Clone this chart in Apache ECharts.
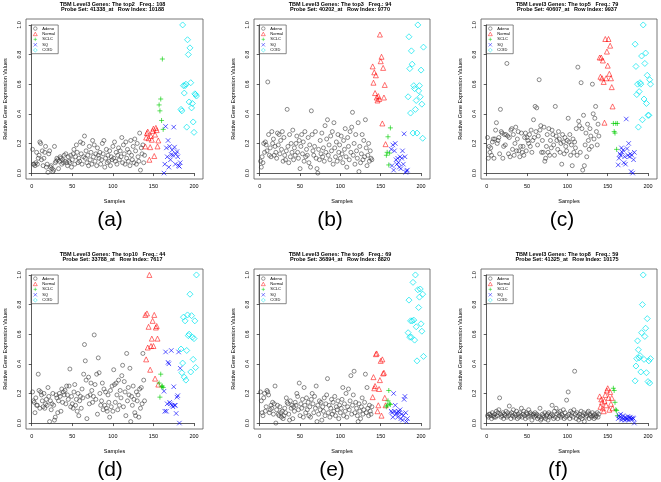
<!DOCTYPE html>
<html><head><meta charset="utf-8">
<script src="https://cdn.jsdelivr.net/npm/echarts@6/dist/echarts.min.js"></script>
<style>html,body{margin:0;padding:0;background:#fff}#c{width:661px;height:482px}</style>
</head><body><div id="c"></div><script>
const groupNames = ['Adeno','Normal','SCLC','SQ','COID'];
const groupStart = [1,140,157,163,184];
const xTicks = [0,50,100,150,200];
const yTicks = [0,0.2,0.4,0.6,0.8,1.0];
const panelLetters = ['(a)','(b)','(c)','(d)','(e)','(f)'];
const titleLine1 = ['TBM Level3 Genes: The top2   Freq.: 108','TBM Level3 Genes: The top3   Freq.: 94','TBM Level3 Genes: The top5   Freq.: 79','TBM Level3 Genes: The top10   Freq.: 44','TBM Level3 Genes: The top6   Freq.: 69','TBM Level3 Genes: The top8   Freq.: 59'];
const titleLine2 = ['Probe Set: 41338_at   Row Index: 10188','Probe Set: 40202_at   Row Index: 9770','Probe Set: 40607_at   Row Index: 9937','Probe Set: 33788_at   Row Index: 7617','Probe Set: 36894_at   Row Index: 8820','Probe Set: 41325_at   Row Index: 10175'];
const xAxisName = 'Samples';
const yAxisName = 'Relative Gene Expression Values';

// ---- panel (a)
const adenoA = [0.16,0.06,0.06,0.05,0.07,0.14,0.06,0.10,0.12,0.21,0.20,0.09,0.15,0.05,0.10,0.14,0.18,0.04,0.06,0.005,
0.13,0.15,0.04,0.05,0.03,0.01,0.02,0.18,0.07,0.08,0.10,0.09,0.03,0.08,0.11,0.10,0.06,0.09,0.07,0.12,
0.08,0.13,0.07,0.05,0.11,0.08,0.07,0.12,0.04,0.09,0.13,0.16,0.06,0.11,0.19,0.14,0.07,0.10,0.08,0.21,
0.13,0.06,0.20,0.11,0.25,0.10,0.15,0.07,0.12,0.05,0.18,0.09,0.14,0.06,0.22,0.11,0.19,0.08,0.13,0.05,
0.17,0.12,0.10,0.14,0.06,0.09,0.20,0.13,0.22,0.04,0.10,0.16,0.07,0.12,0.08,0.15,0.05,0.11,0.09,0.18,
0.10,0.21,0.08,0.14,0.06,0.12,0.17,0.09,0.15,0.11,0.24,0.07,0.19,0.13,0.06,0.21,0.10,0.16,0.08,0.14,
0.05,0.22,0.12,0.09,0.18,0.07,0.23,0.15,0.06,0.20,0.11,0.08,0.27,0.02,0.17,0.13,0.19,0.07,0.12];
const normalA = [0.18,0.24,0.27,0.28,0.235,0.09,0.175,0.25,0.225,0.285,0.30,0.115,0.26,0.305,0.29,0.18,0.22];
const sclcA = [0.46,0.42,0.50,0.355,0.77,0.295];
const sqA = [0.0,0.06,0.315,0.17,0.11,0.22,0.04,0.18,0.09,0.125,0.155,0.12,0.31,0.175,0.06,0.13,0.145,0.11,0.05,0.045,0.07];
const coidA = [0.43,0.42,1.0,0.59,0.54,0.59,0.60,0.31,0.90,0.80,0.48,0.845,0.61,0.44,0.47,0.345,0.275,0.535,0.53,0.52];

// ---- panel (b)
const adenoB = [0.08,0.04,0.11,0.07,0.20,0.14,0.21,0.19,0.15,0.615,0.26,0.12,0.17,0.11,0.28,0.20,0.23,0.12,0.18,0.14,
0.10,0.27,0.19,0.26,0.13,0.22,0.16,0.28,0.08,0.24,0.12,0.09,0.15,0.43,0.18,0.07,0.26,0.11,0.20,0.14,
0.29,0.09,0.17,0.12,0.20,0.25,0.14,0.10,0.22,0.03,0.18,0.26,0.13,0.21,0.08,0.28,0.11,0.16,0.12,0.24,
0.07,0.19,0.04,0.42,0.26,0.15,0.12,0.18,0.28,0.10,0.03,0.00,0.16,0.09,0.22,0.13,0.27,0.11,0.17,0.08,
0.32,0.14,0.23,0.36,0.12,0.19,0.09,0.25,0.15,0.28,0.06,0.34,0.17,0.11,0.21,0.08,0.26,0.14,0.19,0.10,
0.25,0.13,0.07,0.22,0.16,0.30,0.11,0.04,0.24,0.18,0.09,0.28,0.14,0.31,0.41,0.12,0.20,0.06,0.26,0.15,
0.10,0.34,0.01,0.18,0.07,0.13,0.26,0.09,0.22,0.11,0.36,0.17,0.05,0.12,0.20,0.08,0.15,0.10,0.09];
const normalB = [0.72,0.61,0.68,0.54,0.66,0.51,0.49,0.52,0.50,0.935,0.755,0.785,0.335,0.71,0.51,0.595,0.195];
const sclcB = [0.12,0.14,0.245,0.055,0.135,0.305];
const sqB = [0.16,0.05,0.19,0.02,0.15,0.20,0.09,0.06,0.10,0.07,0.04,0.11,0.03,0.10,0.15,0.06,0.265,0.11,0.005,0.015,0.02];
const coidB = [0.515,0.92,0.705,0.405,0.825,0.735,0.27,0.59,0.57,0.43,0.49,0.27,1.0,0.555,0.59,0.515,0.695,0.465,0.235,0.85];

// ---- panel (c)
const adenoC = [0.24,0.10,0.18,0.14,0.17,0.12,0.21,0.23,0.10,0.23,0.29,0.34,0.20,0.22,0.24,0.13,0.43,0.28,0.27,0.10,
0.18,0.26,0.19,0.26,0.74,0.25,0.13,0.24,0.11,0.29,0.30,0.16,0.26,0.12,0.20,0.31,0.15,0.23,0.28,0.15,
0.11,0.18,0.27,0.14,0.18,0.12,0.24,0.27,0.15,0.24,0.22,0.20,0.26,0.18,0.29,0.14,0.22,0.36,0.24,0.45,
0.28,0.44,0.19,0.25,0.63,0.29,0.32,0.14,0.22,0.14,0.31,0.08,0.10,0.18,0.26,0.14,0.30,0.12,0.22,0.17,
0.29,0.26,0.19,0.12,0.45,0.25,0.22,0.16,0.28,0.23,0.14,0.20,0.06,0.26,0.21,0.13,0.24,0.18,0.15,0.22,
0.37,0.21,0.26,0.12,0.19,0.05,0.23,0.14,0.21,0.17,0.30,0.12,0.715,0.35,0.32,0.14,0.61,0.30,0.02,0.39,
0.05,0.19,0.27,0.11,0.33,0.22,0.16,0.30,0.25,0.18,0.60,0.40,0.23,0.37,0.45,0.28,0.19,0.33,0.25];
const normalC = [0.78,0.65,0.78,0.64,0.76,0.615,0.34,0.905,0.64,0.82,0.725,0.905,0.67,0.86,0.64,0.58,0.45];
const sclcC = [0.335,0.28,0.27,0.335,0.16,0.335];
const sqC = [0.055,0.10,0.13,0.12,0.17,0.14,0.155,0.07,0.11,0.06,0.365,0.165,0.12,0.20,0.11,0.13,0.01,0.12,0.00,0.09,0.14];
const coidC = [0.87,0.72,0.53,0.60,0.31,0.55,0.61,0.60,0.79,0.36,1.0,0.50,0.74,0.81,0.47,0.66,0.39,0.39,0.63,0.60];

// ---- panel (d)
const adenoD = [0.21,0.15,0.14,0.07,0.17,0.12,0.12,0.33,0.22,0.10,0.21,0.19,0.15,0.11,0.20,0.10,0.13,0.16,0.12,0.24,
0.18,0.01,0.15,0.09,0.13,0.20,0.12,0.02,0.04,0.19,0.17,0.07,0.15,0.20,0.18,0.08,0.23,0.14,0.21,0.19,
0.22,0.13,0.25,0.19,0.16,0.25,0.365,0.11,0.18,0.13,0.10,0.21,0.26,0.12,0.16,0.08,0.20,0.05,0.15,0.18,
0.10,0.23,0.17,0.33,0.53,0.42,0.29,0.03,0.18,0.31,0.13,0.19,0.27,0.22,0.14,0.18,0.595,0.26,0.16,0.33,
0.06,0.44,0.34,0.20,0.12,0.15,0.27,0.09,0.23,0.12,0.21,0.10,0.08,0.19,0.14,0.04,0.22,0.11,0.25,0.08,
0.36,0.26,0.14,0.27,0.19,0.09,0.29,0.12,0.22,0.17,0.32,0.39,0.11,0.28,0.21,0.05,0.47,0.15,0.24,0.19,
0.37,0.01,0.18,0.12,0.25,0.16,0.07,0.05,0.21,0.15,0.19,0.04,0.23,0.10,0.24,0.13,0.47,0.29,0.15];
const normalD = [0.73,0.43,0.74,0.51,0.65,1.0,0.36,0.52,0.57,0.69,0.52,0.73,0.30,0.645,0.655,0.57,0.26];
const sclcD = [0.27,0.175,0.33,0.245,0.25,0.24];
const sqD = [0.215,0.08,0.48,0.08,0.13,0.41,0.40,0.14,0.13,0.49,0.12,0.11,0.245,0.12,0.12,0.065,0.175,0.185,0.48,0.00,0.37];
const coidD = [0.50,0.34,0.405,0.715,0.31,0.69,0.29,0.49,0.73,0.59,0.60,0.87,0.345,0.725,0.58,0.43,0.57,0.69,0.375,1.0];

// ---- panel (e)
const adenoE = [0.21,0.15,0.07,0.05,0.17,0.20,0.08,0.11,0.22,0.21,0.19,0.07,0.09,0.12,0.10,0.14,0.06,0.13,0.25,0.00,
0.09,0.12,0.06,0.05,0.11,0.07,0.04,0.08,0.03,0.05,0.10,0.07,0.17,0.14,0.13,0.06,0.02,0.15,0.10,0.12,
0.03,0.11,0.08,0.14,0.12,0.20,0.18,0.09,0.27,0.05,0.13,0.10,0.16,0.04,0.24,0.12,0.07,0.17,0.09,0.14,
0.05,0.11,0.04,0.16,0.20,0.13,0.07,0.18,0.10,0.25,0.01,0.12,0.06,0.15,0.09,0.14,0.02,0.11,0.08,0.17,
0.05,0.13,0.19,0.30,0.07,0.12,0.04,0.10,0.16,0.06,0.14,0.08,0.18,0.05,0.11,0.09,0.15,0.03,0.12,0.07,
0.10,0.16,0.24,0.05,0.13,0.08,0.20,0.04,0.11,0.23,0.09,0.15,0.32,0.06,0.12,0.19,0.35,0.07,0.14,0.10,
0.05,0.01,0.13,0.08,0.03,0.11,0.17,0.06,0.09,0.14,0.33,0.07,0.24,0.10,0.05,0.12,0.08,0.06,0.11];
const normalE = [0.175,0.31,0.235,0.25,0.465,0.47,0.08,0.12,0.23,0.29,0.42,0.05,0.43,0.335,0.34,0.17,0.12];
const sclcE = [0.11,0.12,0.15,0.22,0.13,0.125];
const sqE = [0.08,0.07,0.04,0.20,0.08,0.12,0.06,0.07,0.04,0.08,0.07,0.09,0.03,0.06,0.02,0.05,0.16,0.18,0.07,0.01,0.03];
const coidE = [0.61,0.83,0.58,0.69,0.58,0.69,0.95,0.695,0.56,1.0,0.65,0.42,0.90,0.78,0.85,0.905,0.67,0.62,0.87,0.45];

// ---- panel (f)
const adenoF = [0.05,0.04,0.06,0.06,0.05,0.03,0.07,0.05,0.04,0.06,0.04,0.08,0.05,0.07,0.09,0.17,0.06,0.04,0.05,0.07,
0.03,0.06,0.05,0.08,0.04,0.07,0.05,0.115,0.06,0.03,0.07,0.05,0.09,0.04,0.06,0.05,0.08,0.03,0.06,0.04,
0.07,0.05,0.10,0.04,0.06,0.08,0.05,0.03,0.07,0.06,0.04,0.09,0.05,0.07,0.06,0.02,0.05,0.06,0.04,0.07,
0.05,0.06,0.03,0.05,0.04,0.10,0.02,0.03,0.06,0.05,0.04,0.07,0.03,0.05,0.06,0.02,0.07,0.04,0.05,0.06,
0.12,0.05,0.03,0.08,0.04,0.10,0.06,0.03,0.07,0.05,0.08,0.04,0.06,0.05,0.09,0.03,0.07,0.04,0.155,0.05,
0.21,0.06,0.03,0.08,0.05,0.07,0.04,0.09,0.35,0.06,0.03,0.07,0.05,0.02,0.06,0.04,0.08,0.03,0.05,0.07,
0.01,0.06,0.04,0.05,0.07,0.08,0.03,0.06,0.05,0.04,0.07,0.05,0.03,0.06,0.04,0.05,0.07,0.04,0.06];
const normalF = [0.18,0.11,0.16,0.14,0.10,0.08,0.15,0.19,0.12,0.22,0.235,0.17,0.09,0.21,0.13,0.17,0.10];
const sclcF = [0.235,0.22,0.14,0.09,0.085,0.05];
const sqF = [0.03,0.05,0.04,0.06,0.02,0.035,0.05,0.03,0.02,0.04,0.025,0.03,0.045,0.02,0.035,0.04,0.03,0.025,0.035,0.03,0.00];
const coidF = [0.285,0.385,0.435,0.555,0.495,0.44,0.455,0.345,0.61,0.80,1.0,0.43,0.585,0.64,0.34,0.705,0.28,0.42,0.27,0.435];

const panelData = [
  [adenoA,normalA,sclcA,sqA,coidA],
  [adenoB,normalB,sclcB,sqB,coidB],
  [adenoC,normalC,sclcC,sqC,coidC],
  [adenoD,normalD,sclcD,sqD,coidD],
  [adenoE,normalE,sclcE,sqE,coidE],
  [adenoF,normalF,sclcF,sqF,coidF]
];

// ---- layout (pixels)
const boxes = [
  {l:26,t:19,w:177,h:160},{l:254,t:19,w:176,h:160},{l:481,t:19,w:176,h:160},
  {l:26,t:269,w:177,h:160},{l:254,t:269,w:176,h:160},{l:481,t:269,w:176,h:160}
];
const XMIN=-7.08, XMAX=211.08, YMIN=-0.04, YMAX=1.04;
const FONT = 'Liberation Sans, Arial, sans-serif';
const markStyles = [
  {symbol:'circle', size:4, color:'#333333', bw:0.7},
  {symbol:'triangle', size:5, color:'#ff0000', bw:0.7},
  {symbol:'path://M5,0L5,10M0,5L10,5', size:5, color:'#00cd00', bw:0.8},
  {symbol:'path://M0,0L10,10M10,0L0,10', size:4.5, color:'#0000ff', bw:0.8},
  {symbol:'diamond', size:6, color:'#00e5ee', bw:0.9}
];
const panelLabelPos = [{x:110,y:220},{x:330,y:220},{x:562,y:220},{x:110,y:470},{x:332,y:470},{x:558,y:470}];

const legendItems = groupNames.map((n,g)=>({name:n, icon:markStyles[g].symbol,
  itemStyle:{color:'transparent', borderColor:markStyles[g].color, borderWidth:0.6}}));

const grid=[], xAxis=[], yAxis=[], series=[], legend=[], graphic=[];
boxes.forEach((b,k)=>{
  grid.push({left:b.l, top:b.t, width:b.w, height:b.h, show:true, borderColor:'#555', borderWidth:0.8, backgroundColor:'transparent'});
  const l2 = b.l + (0-XMIN)/(XMAX-XMIN)*b.w;
  const w2 = (xTicks[xTicks.length-1]-xTicks[0])/(XMAX-XMIN)*b.w;
  const t2 = b.t + (YMAX-1)/(YMAX-YMIN)*b.h;
  const h2 = 1/(YMAX-YMIN)*b.h;
  grid.push({left:l2, top:t2, width:w2, height:h2, show:false});
  const gi = 2*k;
  xAxis.push({gridIndex:gi, type:'value', min:XMIN, max:XMAX, show:false});
  yAxis.push({gridIndex:gi, type:'value', min:YMIN, max:YMAX, show:false});
  const offX = (b.t+b.h)-(t2+h2);
  const offY = l2-b.l;
  xAxis.push({gridIndex:gi+1, type:'value', min:xTicks[0], max:xTicks[xTicks.length-1], interval:50, offset:offX,
    axisLine:{lineStyle:{color:'#333',width:0.8}}, axisTick:{length:3,lineStyle:{color:'#333',width:0.8}},
    axisLabel:{fontSize:5.5, color:'#000', margin:4, fontFamily:FONT}, splitLine:{show:false}});
  yAxis.push({gridIndex:gi+1, type:'value', min:yTicks[0], max:yTicks[yTicks.length-1], interval:0.2, offset:offY,
    axisLine:{show:true,lineStyle:{color:'#333',width:0.8}}, axisTick:{show:true,length:3,lineStyle:{color:'#333',width:0.8}},
    axisLabel:{fontSize:5.5, color:'#000', margin:4, rotate:90, fontFamily:FONT, formatter:v=>v.toFixed(1)}, splitLine:{show:false}});
  panelData[k].forEach((vals,g)=>{
    const s = markStyles[g];
    series.push({type:'scatter', name:groupNames[g], xAxisIndex:gi, yAxisIndex:gi,
      symbol:s.symbol, symbolSize:s.size, silent:true, animation:false,
      itemStyle:{color:'transparent', borderColor:s.color, borderWidth:s.bw},
      data: vals.map((v,j)=>[groupStart[g]+j, v])});
  });
  legend.push({data:legendItems, orient:'vertical', left:b.l+5, top:b.t+6, itemWidth:4, itemHeight:3.5, itemGap:1.3,
    padding:[1.5,3,1.5,2], borderColor:'#555', borderWidth:0.7, selectedMode:false,
    textStyle:{fontSize:4, color:'#000', fontFamily:FONT}});
  const cx = b.l + b.w/2 - 2;
  graphic.push({type:'text', x:cx, y:b.t-14.5, style:{text:titleLine1[k], fontSize:5.5, fontWeight:'bold', fontFamily:FONT, fill:'#000', textAlign:'center', textVerticalAlign:'middle'}});
  graphic.push({type:'text', x:cx, y:b.t-9.5, style:{text:titleLine2[k], fontSize:5.5, fontWeight:'bold', fontFamily:FONT, fill:'#000', textAlign:'center', textVerticalAlign:'middle'}});
  graphic.push({type:'text', x:b.l+b.w/2, y:b.t+b.h+22, style:{text:xAxisName, fontSize:5.5, fontFamily:FONT, fill:'#000', textAlign:'center', textVerticalAlign:'middle'}});
  graphic.push({type:'text', x:b.l-21, y:b.t+b.h/2, rotation:Math.PI/2, style:{text:yAxisName, fontSize:5.5, fontFamily:FONT, fill:'#000', textAlign:'center', textVerticalAlign:'middle'}});
  graphic.push({type:'text', x:panelLabelPos[k].x, y:panelLabelPos[k].y, style:{text:panelLetters[k], fontSize:21, fontFamily:FONT, fill:'#000', textAlign:'center', textVerticalAlign:'middle'}});
});

const chart = echarts.init(document.getElementById('c'), null, {renderer:'canvas'});
chart.setOption({animation:false, backgroundColor:'#fff', grid, xAxis, yAxis, series, legend, graphic});
</script></body></html>
